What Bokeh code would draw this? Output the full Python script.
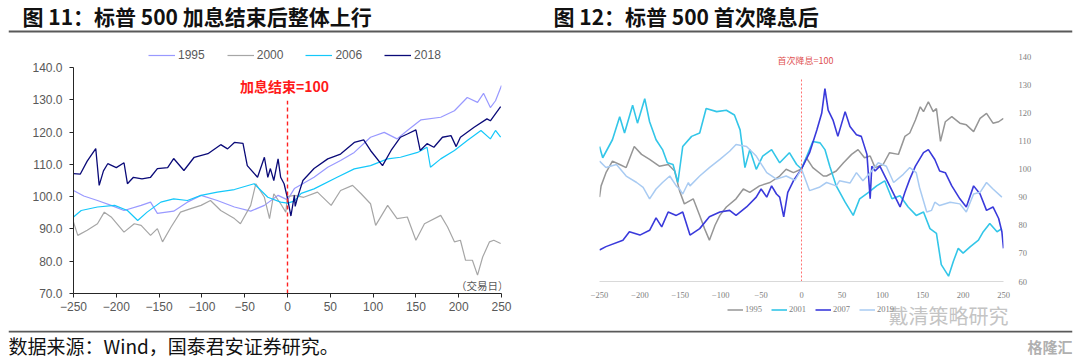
from bokeh.plotting import figure
from bokeh.models import Range1d, Label, Legend, LegendItem, Span, FixedTicker, NumeralTickFormatter
from bokeh.layouts import column, row
from bokeh.embed import file_html
from bokeh.resources import INLINE

# ---------------- data: left chart (S&P500 after end of hikes, day 0 = 100) ----------------
l1995_x = [-250, -238, -222, -206, -191, -171, -160, -152, -133, -117, -101, -82, -62, -43, -27, -11, 0,
           8, 31, 47, 62, 78, 97, 113, 128, 140, 156, 179, 195, 210, 222, 229, 237, 243, 250]
l1995_y = [101.9, 100.2, 98.8, 97.3, 95.7, 97.3, 98.3, 94.8, 95.5, 98.3, 100.4, 98.8, 96.8, 95.5, 97.3, 100.4, 99.0,
           102.5, 106.0, 109.1, 111.2, 113.7, 118.4, 119.9, 117.9, 120.5, 123.8, 124.6, 126.6, 130.7, 129.2, 132.0, 127.6, 129.7, 134.4]

l2000_x = [-250, -245, -234, -222, -214, -206, -191, -179, -171, -160, -152, -146, -136, -125, -113, -101, -90, -78,
           -62, -55, -43, -37, -27, -21, -16, -8, -2, 0, 8, 19, 35, 51, 62, 76, 86, 97, 103, 117, 128, 140, 150,
           160, 179, 187, 195, 202, 208, 216, 222, 228, 236, 241, 249]
l2000_y = [92.1, 88.0, 89.6, 91.6, 95.2, 93.7, 89.0, 91.6, 91.1, 88.0, 90.1, 86.0, 90.6, 95.2, 96.3, 97.3, 98.8, 95.7,
           93.2, 91.6, 97.3, 104.0, 99.8, 93.2, 100.9, 97.8, 95.2, 100.0, 100.4, 99.8, 101.4, 97.3, 101.9, 103.5, 100.9,
           97.8, 91.1, 97.3, 93.2, 93.7, 86.5, 91.6, 94.2, 90.6, 86.0, 86.5, 80.3, 80.3, 75.7, 81.3, 86.0, 86.5, 85.5]

l2006_x = [-250, -241, -222, -202, -187, -175, -164, -148, -133, -117, -101, -82, -62, -39, -31, -23, -8, 0,
           8, 16, 31, 58, 78, 97, 117, 132, 152, 163, 167, 179, 195, 210, 226, 237, 243, 249]
l2006_y = [93.7, 95.7, 96.8, 97.3, 95.7, 92.6, 95.2, 98.3, 99.3, 98.8, 100.4, 101.4, 102.2, 104.0, 101.9, 99.8, 98.3, 98.0,
           98.6, 101.0, 102.4, 106.0, 108.6, 109.6, 111.7, 112.2, 113.7, 115.3, 109.1, 111.7, 114.3, 117.4, 120.5, 117.9, 120.5, 118.4]

l2018_x = [-250, -242, -234, -224, -220, -215, -210, -200, -191, -187, -180, -170, -160, -152, -140, -133, -121, -109,
           -93, -78, -70, -62, -52, -47, -35, -27, -23, -20, -16, -11, -8, -4, 0, 4, 8, 9, 12, 18, 31, 47, 62, 78,
           89, 97, 111, 121, 132, 140, 150, 155, 163, 171, 181, 191, 197, 202, 218, 233, 237, 249]
l2018_y = [107.1, 107.0, 111.0, 114.9, 103.5, 108.0, 110.2, 109.0, 110.5, 104.0, 106.0, 105.5, 106.0, 108.7, 109.0, 111.8,
           108.1, 112.2, 113.3, 116.1, 114.8, 116.8, 116.5, 109.6, 106.0, 112.2, 106.0, 108.7, 105.0, 111.7, 106.0, 104.0,
           99.5, 94.0, 100.4, 97.0, 100.0, 105.0, 108.7, 111.7, 113.2, 116.8, 117.6, 114.3, 109.6, 114.3, 118.4, 119.4,
           120.7, 114.3, 116.4, 115.3, 118.4, 118.9, 115.5, 118.4, 121.5, 124.1, 123.5, 127.9]

# ---------------- data: right chart (S&P500 after first cut, day 0 = 100) ----------------
r1995_x = [-250, -248, -242, -234, -225, -217, -207, -198, -188, -176, -165, -157, -151, -145, -134, -126, -120, -114,
           -107, -101, -93, -81, -72, -64, -52, -39, -27, -19, -10, 0, 6, 14, 27, 31, 43, 52, 62, 70, 78, 85, 91,
           101, 109, 120, 128, 134, 141, 147, 151, 157, 163, 167, 171, 172, 178, 186, 196, 204, 213, 221, 229, 237, 244, 250]
r1995_y = [90.0, 94.0, 98.7, 102.8, 101.6, 100.5, 108.0, 105.2, 103.4, 101.0, 101.6, 99.3, 92.3, 87.6, 89.4, 83.5, 78.8,
           74.7, 80.0, 83.5, 86.5, 89.4, 92.9, 91.7, 94.0, 95.2, 97.5, 99.9, 98.7, 100.0, 104.0, 100.5, 97.5, 97.5, 99.3,
           102.2, 105.2, 106.9, 104.0, 104.6, 100.5, 101.6, 105.8, 105.2, 111.6, 112.8, 117.4, 122.1, 120.4, 123.9, 120.4,
           121.5, 112.2, 109.8, 116.8, 118.6, 116.3, 115.7, 113.3, 118.0, 119.8, 116.3, 116.8, 118.0]

r2001_x = [-250, -246, -234, -225, -219, -209, -203, -194, -188, -180, -172, -166, -159, -153, -147, -136, -126, -118,
           -105, -93, -83, -76, -70, -64, -56, -48, -37, -27, -15, -6, 0, 14, 23, 29, 35, 43, 54, 64, 72, 83, 93,
           103, 112, 122, 132, 142, 151, 159, 167, 173, 182, 188, 194, 200, 209, 219, 225, 233, 242, 248]
r2001_y = [108.0, 104.0, 110.4, 118.6, 112.8, 122.7, 116.3, 125.0, 116.8, 110.4, 106.9, 102.2, 101.6, 95.2, 108.0, 111.6,
           112.8, 121.5, 120.4, 120.9, 119.2, 113.9, 100.5, 106.9, 99.9, 104.6, 106.9, 102.2, 105.8, 101.6, 100.0, 109.8,
           109.3, 106.9, 101.0, 94.0, 88.2, 83.5, 89.4, 91.7, 94.0, 95.8, 89.4, 90.5, 86.5, 83.5, 84.7, 78.8, 77.1, 66.0,
           61.9, 67.2, 71.8, 70.1, 72.4, 74.7, 77.7, 80.6, 77.7, 78.8]

r2007_x = [-250, -242, -221, -213, -200, -188, -180, -173, -165, -155, -147, -138, -126, -114, -101, -89, -81, -68,
           -56, -50, -43, -37, -31, -27, -22, -17, -10, -6, 0, 10, 19, 25, 29, 33, 39, 45, 54, 60, 68, 74, 81, 85,
           87, 91, 97, 105, 122, 128, 134, 141, 151, 157, 165, 171, 178, 186, 196, 204, 213, 221, 229, 237, 244, 248, 250]
r2007_y = [71.2, 72.4, 74.7, 77.7, 76.5, 78.2, 82.6, 79.4, 84.7, 83.5, 84.7, 76.5, 78.8, 83.0, 84.7, 85.3, 83.5, 86.5,
           90.0, 92.9, 90.0, 94.0, 91.1, 90.0, 83.0, 91.7, 95.8, 97.5, 100.0, 105.8, 113.9, 119.8, 128.6, 120.9, 117.4,
           111.6, 120.4, 115.1, 112.2, 111.6, 105.2, 89.4, 101.0, 99.3, 101.0, 96.4, 86.5, 91.7, 96.4, 101.0, 105.8,
           106.9, 103.4, 99.3, 98.7, 94.0, 89.4, 86.5, 94.0, 91.1, 85.3, 86.5, 82.4, 77.7, 71.8]

r2019_x = [-250, -242, -229, -217, -204, -196, -188, -180, -172, -163, -155, -151, -147, -140, -138, -126, -114, -101,
           -89, -81, -68, -56, -43, -31, -19, -8, 0, 10, 22, 31, 43, 47, 60, 68, 76, 85, 95, 105, 114, 126, 134, 142,
           146, 155, 161, 165, 171, 184, 196, 204, 213, 221, 229, 237, 248]
r2019_y = [102.8, 100.5, 101.6, 97.5, 95.2, 93.5, 89.4, 92.9, 95.2, 97.5, 94.0, 92.9, 91.1, 95.2, 94.0, 97.5, 100.5,
           103.4, 106.3, 108.7, 108.0, 104.6, 98.7, 96.4, 97.5, 96.0, 100.0, 92.3, 93.5, 95.2, 94.0, 95.8, 95.0, 98.7,
           95.8, 98.7, 102.2, 101.0, 95.2, 98.1, 100.5, 98.7, 93.5, 84.7, 85.3, 88.2, 87.0, 88.2, 87.6, 84.7, 91.1,
           91.7, 95.2, 92.9, 90.0]

x_ticks = [-250, -200, -150, -100, -50, 0, 50, 100, 150, 200, 250]
left_y_ticks = [70, 80, 90, 100, 110, 120, 130, 140]
right_y_ticks = [60, 70, 80, 90, 100, 110, 120, 130, 140]
left_labels = ["1995", "2000", "2006", "2018"]
right_labels = ["1995", "2001", "2007", "2019"]
left_marker_top = 129.7
right_marker_top = 132.3

TITLE_L = "图 11：标普 500 加息结束后整体上行"
TITLE_R = "图 12：标普 500 首次降息后"
SOURCE = "数据来源：Wind，国泰君安证券研究。"
WATERMARK = "戴清策略研究"
LOGO = "格隆汇"

CJK = "Noto Sans CJK SC"


def no_align(p):
    try:
        p.frame_align = False
    except Exception:
        pass


def strip(w, h, xr, yr, **kw):
    p = figure(width=w, height=h, x_range=xr, y_range=yr, output_backend="svg",
               toolbar_location=None, x_axis_type=None, y_axis_type=None,
               outline_line_color=None, **kw)
    p.background_fill_color = "white"
    p.border_fill_color = "white"
    no_align(p)
    return p


# ---------------- header (page y 0..36) ----------------
head = strip(1080, 36, Range1d(8, 1072), Range1d(36, 0), min_border_left=8, min_border_right=8,
             min_border_top=0, min_border_bottom=0)
head.add_layout(Span(location=31, dimension="width", line_color="#595959", line_width=2))
head.add_layout(Label(x=22, y=15, text=TITLE_L, text_font=CJK, text_font_style="bold",
                      text_font_size="21px", text_baseline="middle", text_color="#111111"))
head.add_layout(Label(x=553, y=15, text=TITLE_R, text_font=CJK, text_font_style="bold",
                      text_font_size="21px", text_baseline="middle", text_color="#111111"))

# ---------------- left legend strip (page x 0..540, y 36..62) ----------------
# the series are drawn here too, far outside this strip's ranges; only their legend samples show
ll = strip(540, 26, Range1d(1000, 2000), Range1d(1000, 2000), min_border=0)
left_styles = [("#9999FF", 1.2), ("#A6A6A6", 1.2), ("#14C8FA", 1.2), ("#0A0A78", 1.3)]
left_data = [(l1995_x, l1995_y), (l2000_x, l2000_y), (l2006_x, l2006_y), (l2018_x, l2018_y)]
litems = []
for (xs, ys), (c, w), lab in zip(left_data, left_styles, left_labels):
    s = ll.line(xs, ys, line_color=c, line_width=w)
    litems.append(LegendItem(label=lab, renderers=[s]))
ll.add_layout(Legend(items=litems, orientation="horizontal", location=(148, 0), padding=0, margin=0,
                     spacing=22, label_standoff=3, glyph_width=27, glyph_height=12, label_height=12,
                     border_line_color=None, background_fill_alpha=0,
                     label_text_font="Liberation Sans", label_text_font_size="12px",
                     label_text_color="#595959"))

# ---------------- left chart (page x 0..540, y 62..330) ----------------
pl = figure(width=540, height=268, x_range=Range1d(-250, 250), y_range=Range1d(70, 140),
            output_backend="svg", toolbar_location=None,
            min_border_left=73, min_border_right=39, min_border_top=5, min_border_bottom=37)
no_align(pl)
pl.outline_line_color = None
pl.grid.visible = False
for ax in (pl.xaxis[0], pl.yaxis[0]):
    ax.axis_line_color = "#262626"
    ax.major_tick_line_color = "#262626"
    ax.major_tick_in = 0
    ax.major_tick_out = 4
    ax.minor_tick_line_color = None
    ax.major_label_text_font = "Liberation Sans"
    ax.major_label_text_font_size = "12px"
    ax.major_label_text_color = "#595959"
pl.xaxis.ticker = FixedTicker(ticks=x_ticks)
pl.yaxis.ticker = FixedTicker(ticks=left_y_ticks)
pl.yaxis.formatter = NumeralTickFormatter(format="0.0")
pl.xaxis.major_label_standoff = 4
pl.yaxis.major_label_standoff = 7

for (xs, ys), (c, w) in zip(left_data, left_styles):
    pl.line(xs, ys, line_color=c, line_width=w)
pl.segment(x0=[0], y0=[70], x1=[0], y1=[left_marker_top], line_color="#FF2020",
           line_width=1.4, line_dash="4 3")
pl.add_layout(Label(x=0, y=134.3, x_offset=-3, text="加息结束=100", text_font=CJK, text_font_style="bold",
                    text_font_size="14px", text_color="#FF1A1A", text_align="center", text_baseline="middle"))
pl.add_layout(Label(x=250, y=70, x_offset=7, y_offset=1, text="（交易日）", text_font=CJK,
                    text_font_size="10.5px", text_color="#595959", text_align="right", text_baseline="bottom"))

# ---------------- right chart (page x 540..1080, y 36..300) ----------------
pr = figure(width=540, height=264, x_range=Range1d(-250, 250), y_range=Range1d(60, 140),
            output_backend="svg", toolbar_location=None, y_axis_location="right",
            min_border_left=59, min_border_right=77, min_border_top=20, min_border_bottom=16)
no_align(pr)
pr.outline_line_color = None
pr.grid.visible = False
for ax in (pr.xaxis[0], pr.yaxis[0]):
    ax.major_tick_line_color = None
    ax.minor_tick_line_color = None
    ax.major_label_text_font = "Liberation Serif"
    ax.major_label_text_font_size = "8.5px"
    ax.major_label_text_color = "#808080"
pr.xaxis.axis_line_color = "#D9D9D9"
pr.yaxis.axis_line_color = None
pr.xaxis.ticker = FixedTicker(ticks=x_ticks)
pr.yaxis.ticker = FixedTicker(ticks=right_y_ticks)
pr.xaxis.major_label_standoff = 4
pr.yaxis.major_label_standoff = 9

right_styles = [("#969696", 1.5), ("#33C6E8", 1.6), ("#3A3ADB", 1.6), ("#A9CBF2", 1.5)]
right_data = [(r1995_x, r1995_y), (r2001_x, r2001_y), (r2007_x, r2007_y), (r2019_x, r2019_y)]
for (xs, ys), (c, w) in zip(right_data, right_styles):
    pr.line(xs, ys, line_color=c, line_width=w)
pr.segment(x0=[0], y0=[60], x1=[0], y1=[right_marker_top], line_color="#FF7070",
           line_width=1, line_dash="2 2")
pr.add_layout(Label(x=0, y=138.5, x_offset=4, text="首次降息=100", text_font=CJK,
                    text_font_size="9px", text_color="#E05050", text_align="center", text_baseline="middle"))

# ---------------- right legend strip (page x 540..1080, y 300..330) ----------------
rb = strip(540, 30, Range1d(540, 1080), Range1d(330, 300), min_border=0)
ritems = []
for (xs, ys), (c, w), lab in zip(right_data, right_styles, right_labels):
    s = rb.line(xs, ys, line_color=c, line_width=w)
    ritems.append(LegendItem(label=lab, renderers=[s]))
rb.add_layout(Legend(items=ritems, orientation="horizontal", location=(187, 16), padding=0, margin=0,
                     spacing=6, label_standoff=2, glyph_width=16, glyph_height=9, label_height=9,
                     border_line_color=None, background_fill_alpha=0,
                     label_text_font="Liberation Serif", label_text_font_size="8.5px",
                     label_text_color="#808080"))
rb.add_layout(Label(x=888, y=315, text=WATERMARK, text_font=CJK, text_font_size="20px",
                    text_color="#C4C4C4", text_align="left", text_baseline="middle"))

# ---------------- footer (page y 330..361) ----------------
foot = strip(1080, 31, Range1d(8, 1072), Range1d(361, 330), min_border_left=8, min_border_right=8,
             min_border_top=0, min_border_bottom=0)
foot.add_layout(Span(location=331, dimension="width", line_color="#595959", line_width=2))
foot.add_layout(Label(x=8, y=345, text=SOURCE, text_font=CJK, text_font_size="19px",
                      text_baseline="middle", text_color="#111111"))
foot.add_layout(Label(x=1072, y=346, text=LOGO, text_font=CJK, text_font_size="15px", text_font_style="bold",
                      text_baseline="middle", text_align="right", text_color="#B0B0B0"))

root = column(head, row(column(column(ll), column(pl)), column(column(pr), column(rb))), foot)
open("out.html", "w").write(file_html(root, INLINE))
